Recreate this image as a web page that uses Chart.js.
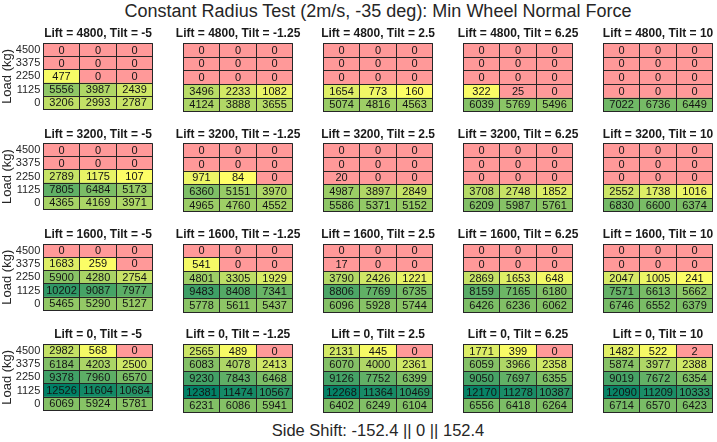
<!DOCTYPE html>
<html><head><meta charset="utf-8">
<script src="https://cdn.jsdelivr.net/npm/chart.js@4"></script>
<style>
html,body{margin:0;padding:0;background:#fff;}
#wrap{position:relative;width:717px;height:442px;overflow:hidden;font-family:"Liberation Sans",Arial,Helvetica,sans-serif;background:#fff;}
#wrap canvas{position:absolute;}
.txt{position:absolute;left:0;width:756px;text-align:center;color:#262626;white-space:nowrap;}
</style></head>
<body><div id="wrap">
<div class="txt" id="mainTitle" style="top:0;font-size:18px;line-height:22px;">Constant Radius Test (2m/s, -35 deg): Min Wheel Normal Force</div>
<div class="txt" id="xLabel" style="top:420px;font-size:16.5px;line-height:20px;">Side Shift: -152.4 || 0 || 152.4</div>
</div>
<script>
// ---- data ----
const sideShift = ['-152.4', '0', '152.4'];
const loadsTopDown = ['4500', '3375', '2250', '1125', '0'];
const lifts = [4800, 3200, 1600, 0];
const tilts = ['-5', '-1.25', '2.5', '6.25', '10'];

// each panel: rows top-down (Load 4500 ... 0), columns = side shift
const lift4800 = [
  [[0,0,0],[0,0,0],[477,0,0],[5556,3987,2439],[3206,2993,2787]],
  [[0,0,0],[0,0,0],[0,0,0],[3496,2233,1082],[4124,3888,3655]],
  [[0,0,0],[0,0,0],[0,0,0],[1654,773,160],[5074,4816,4563]],
  [[0,0,0],[0,0,0],[0,0,0],[322,25,0],[6039,5769,5496]],
  [[0,0,0],[0,0,0],[0,0,0],[0,0,0],[7022,6736,6449]]
];
const lift3200 = [
  [[0,0,0],[0,0,0],[2789,1175,107],[7805,6484,5173],[4365,4169,3971]],
  [[0,0,0],[0,0,0],[971,84,0],[6360,5151,3970],[4965,4760,4552]],
  [[0,0,0],[0,0,0],[20,0,0],[4987,3897,2849],[5586,5371,5152]],
  [[0,0,0],[0,0,0],[0,0,0],[3708,2748,1852],[6209,5987,5761]],
  [[0,0,0],[0,0,0],[0,0,0],[2552,1738,1016],[6830,6600,6374]]
];
const lift1600 = [
  [[0,0,0],[1683,259,0],[5900,4280,2754],[10202,9087,7977],[5465,5290,5127]],
  [[0,0,0],[541,0,0],[4801,3305,1929],[9483,8408,7341],[5778,5611,5437]],
  [[0,0,0],[17,0,0],[3790,2426,1221],[8806,7769,6735],[6096,5928,5744]],
  [[0,0,0],[0,0,0],[2869,1653,648],[8159,7165,6180],[6426,6236,6062]],
  [[0,0,0],[0,0,0],[2047,1005,241],[7571,6613,5662],[6746,6552,6379]]
];
const lift0 = [
  [[2982,568,0],[6184,4203,2500],[9378,7960,6570],[12526,11604,10684],[6069,5924,5781]],
  [[2565,489,0],[6083,4078,2413],[9230,7843,6468],[12381,11474,10567],[6231,6086,5941]],
  [[2131,445,0],[6070,4000,2361],[9126,7752,6399],[12268,11364,10469],[6402,6249,6104]],
  [[1771,399,0],[6059,3966,2358],[9050,7697,6355],[12170,11278,10387],[6556,6418,6264]],
  [[1482,522,2],[5874,3977,2388],[9019,7672,6354],[12090,11209,10333],[6714,6570,6423]]
];
const valuesByLift = [lift4800, lift3200, lift1600, lift0];

// ---- colour map: pink for lowest bin, flipped "summer" above ----
const colorMax = Math.max(...valuesByLift.flat(3));
function cellColor(v) {
  const N = 256;
  let idx = Math.floor(v / colorMax * N);
  if (idx <= 0) return 'rgb(255,153,153)';
  if (idx > N - 1) idx = N - 1;
  const t = (idx - 1) / (N - 2);
  return 'rgb(' + Math.round(255 * (1 - t)) + ',' + Math.round(255 * (1 - 0.5 * t)) + ',102)';
}

// ---- layout ----
const FONT = '"Liberation Sans", Arial, Helvetica, sans-serif';
Chart.defaults.font.family = FONT;
const PANEL_LEFT0 = 43.3, STEP_X = 140, PANEL_W = 109.5;
const PANEL_TOP0 = 43.4, STEP_Y = 100.3, PANEL_H = 68.3;
const CANVAS_W = 200, CANVAS_H = 106;

const cellText = {
  id: 'cellText',
  afterDraw(chart, args, opts) {
    const ctx = chart.ctx;
    ctx.save();
    ctx.textAlign = 'center';
    ctx.textBaseline = 'middle';
    ctx.font = '11px ' + FONT;
    ctx.fillStyle = '#141414';
    chart.data.datasets.forEach((ds, di) => {
      const meta = chart.getDatasetMeta(di);
      meta.data.forEach((el, i) => {
        ctx.fillText(String(ds.cellValues[i]), el.x, (el.y + el.base) / 2 + 0.5);
      });
    });
    const a = chart.chartArea;
    ctx.font = 'bold 12px ' + FONT;
    ctx.fillStyle = '#1a1a1a';
    ctx.fillText(opts.title, (a.left + a.right) / 2, a.top - 9.5);
    ctx.restore();
  }
};

const wrap = document.getElementById('wrap');
for (let r = 0; r < lifts.length; r++) {
  for (let c = 0; c < tilts.length; c++) {
    const panel = valuesByLift[r][c];
    const panelTop = PANEL_TOP0 + STEP_Y * r;
    const canvasTop = Math.floor(panelTop) - 30;
    const canvasLeft = Math.round(PANEL_LEFT0 + STEP_X * c - 43.3);
    const yAxisW = PANEL_LEFT0 + STEP_X * c - canvasLeft;
    const cv = document.createElement('canvas');
    cv.width = CANVAS_W; cv.height = CANVAS_H;
    cv.style.width = CANVAS_W + 'px'; cv.style.height = CANVAS_H + 'px';
    cv.style.left = canvasLeft + 'px'; cv.style.top = canvasTop + 'px';
    wrap.appendChild(cv);

    const datasets = [];
    for (let k = 0; k < loadsTopDown.length; k++) {
      const rowVals = panel[loadsTopDown.length - 1 - k]; // bottom row first
      datasets.push({
        data: rowVals.map(() => 1),
        cellValues: rowVals,
        backgroundColor: rowVals.map(cellColor),
        borderWidth: 0,
        barPercentage: 1,
        categoryPercentage: 1
      });
    }

    new Chart(cv, {
      type: 'bar',
      data: { labels: sideShift, datasets },
      plugins: [cellText],
      options: {
        responsive: false,
        animation: false,
        devicePixelRatio: 1,
        layout: { padding: { top: panelTop - canvasTop, bottom: CANVAS_H - (panelTop - canvasTop) - PANEL_H, right: CANVAS_W - yAxisW - PANEL_W, left: 0 } },
        plugins: {
          legend: { display: false },
          tooltip: { enabled: false },
          cellText: { title: 'Lift = ' + lifts[r] + ', Tilt = ' + tilts[c] }
        },
        scales: {
          x: {
            type: 'category', stacked: true, offset: true,
            grid: { offset: true, color: '#262626', lineWidth: 1, drawTicks: false, z: 1 },
            border: { display: true, color: '#262626', width: 1, z: 1 },
            ticks: { display: false }
          },
          y: { type: 'linear', stacked: true, min: 0, max: 5, display: false },
          yl: {
            type: 'category', position: 'left', labels: loadsTopDown, offset: true,
            grid: { offset: true, color: '#262626', lineWidth: 1, drawTicks: false, z: 1 },
            border: { display: true, color: '#262626', width: 1, z: 1 },
            ticks: { display: c === 0, color: '#262626', font: { size: 11, family: FONT }, padding: 3, autoSkip: false },
            title: { display: c === 0, text: 'Load (kg)', color: '#262626', font: { size: 13, family: FONT }, padding: { top: 0, bottom: 0 } },
            afterFit(s) { s.width = yAxisW; }
          }
        }
      }
    });
  }
}
</script>
</body></html>
